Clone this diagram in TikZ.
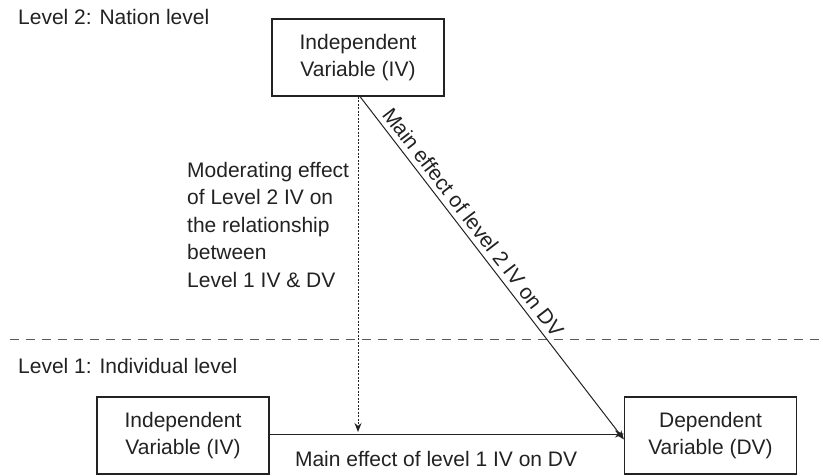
\documentclass[tikz,border=0pt]{standalone}
\usepackage{fontspec}
\setmainfont{Liberation Sans}
\usetikzlibrary{arrows.meta}
\definecolor{ink}{HTML}{222222}
\tikzset{
  box/.style={draw=ink, line width=1.1pt, minimum width=172pt, minimum height=77pt, inner sep=0pt, align=center, text=ink},
  lbl/.style={text=ink, inner sep=0pt},
  arr/.style={draw=ink, line width=1pt, -{Stealth[length=9pt,width=7pt]}},
  dotarr/.style={draw=ink, line width=1pt, dash pattern=on 2pt off 1.5pt, -{Stealth[length=9pt,width=7pt]}},
  sep/.style={draw=ink!75, line width=1pt, dash pattern=on 9pt off 7pt}
}
\begin{document}
\begin{tikzpicture}[x=1pt, y=-1pt, font=\fontsize{21}{27.5}\selectfont]
\useasboundingbox (0,0) rectangle (823,476);
% level labels
\node[lbl, anchor=base west] (l2) at (18,25) {Level 2: Nation level};
\node[lbl, anchor=base west] (l1) at (18,373) {Level 1: Individual level};
% separator
\coordinate (sepL) at (10,339);
\coordinate (sepR) at (823,339);
\draw[sep] (sepL) -- (sepR);
% boxes
\node[box] (iv2) at (358,57.5) {Independent\\Variable (IV)};
\node[box] (iv1) at (183,435.5) {Independent\\Variable (IV)};
\node[box] (dv) at (710.5,435.5) {Dependent\\Variable (DV)};
% main effect level 1
\draw[arr] (iv1.east |- 0,434) -- node[lbl, pos=0.47, below=17pt] (me1) {Main effect of level 1 IV on DV} (dv.west |- 0,434);
% moderating
\coordinate (modend) at (358,432);
\draw[dotarr] (iv2.south) -- (modend);
\node[lbl, align=left, anchor=north west] (mod) at (187,162) {Moderating effect\\of Level 2 IV on\\the relationship\\between\\Level 1 IV \& DV};
% main effect level 2
\draw[arr] ([xshift=2pt]iv2.south) -- node[lbl, pos=0.39, above=5pt, sloped] (me2) {Main effect of level 2 IV on DV} ([yshift=-4pt]dv.west);
\end{tikzpicture}
\end{document}
